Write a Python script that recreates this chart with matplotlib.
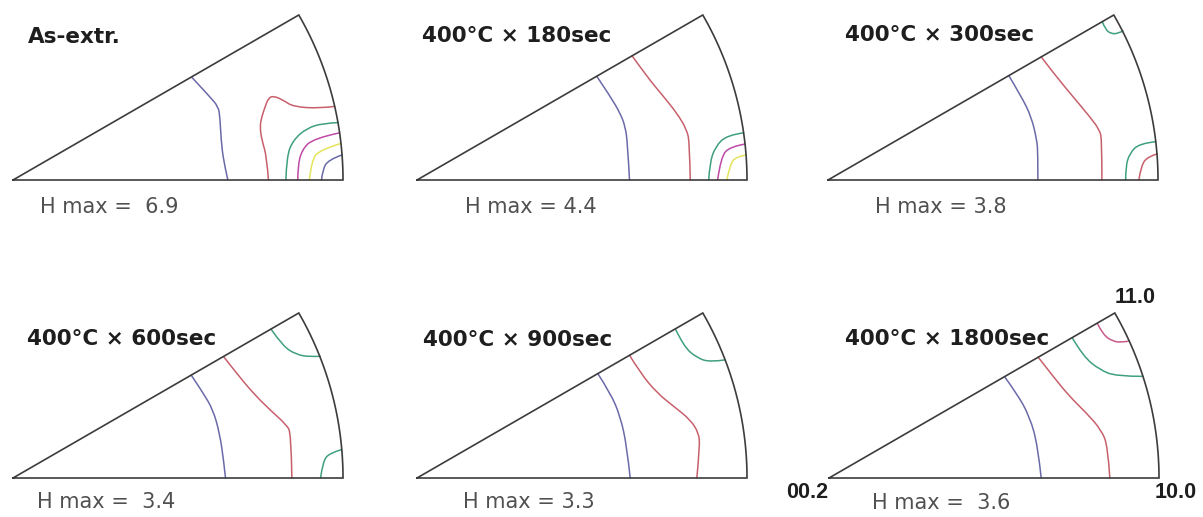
import numpy as np
import matplotlib
matplotlib.use("Agg")
import matplotlib.pyplot as plt
from matplotlib.path import Path
from matplotlib.patches import PathPatch

plt.rcParams['font.family'] = ['DejaVu Sans']

# panel titles and maximum intensity
titles = ["As-extr.", "400°C × 180sec", "400°C × 300sec",
          "400°C × 600sec", "400°C × 900sec", "400°C × 1800sec"]
hmax = ["H max =  6.9", "H max = 4.4", "H max = 3.8",
        "H max =  3.4", "H max = 3.3", "H max =  3.6"]
corner_labels = ["11.0", "10.0", "00.2"]

# contour lines (x, y in units of the triangle radius)
# panel 1 : As-extr.
p1_blue = [(0.542, 0.311), (0.597, 0.252), (0.622, 0.222), (0.627, 0.192),
           (0.632, 0.101), (0.642, 0.040), (0.651, 0.0)]
p1_red = [(0.975, 0.223), (0.930, 0.217), (0.849, 0.222), (0.819, 0.242),
          (0.789, 0.255), (0.774, 0.248), (0.764, 0.222), (0.754, 0.192),
          (0.748, 0.162), (0.754, 0.121), (0.769, 0.071), (0.774, 0.0)]
p1_green = [(0.985, 0.174), (0.940, 0.172), (0.890, 0.157), (0.849, 0.121),
            (0.829, 0.071), (0.827, 0.0)]
p1_mag = [(0.990, 0.143), (0.910, 0.126), (0.875, 0.091), (0.863, 0.040),
          (0.863, 0.0)]
p1_yel = [(0.994, 0.111), (0.930, 0.091), (0.905, 0.061), (0.898, 0.0)]
p1_blue2 = [(0.997, 0.076), (0.955, 0.061), (0.938, 0.030), (0.935, 0.0)]

# panel 2 : 180 sec
p2_blue = [(0.545, 0.314), (0.586, 0.253), (0.616, 0.202), (0.631, 0.162),
           (0.638, 0.111), (0.644, 0.0)]
p2_red = [(0.652, 0.376), (0.697, 0.313), (0.747, 0.253), (0.788, 0.202),
          (0.818, 0.152), (0.826, 0.111), (0.828, 0.0)]
p2_green = [(0.990, 0.143), (0.939, 0.136), (0.904, 0.101), (0.887, 0.051),
            (0.884, 0.0)]
p2_mag = [(0.994, 0.109), (0.949, 0.101), (0.921, 0.071), (0.911, 0.0)]
p2_yel = [(0.997, 0.076), (0.970, 0.071), (0.949, 0.051), (0.939, 0.0)]

# panel 3 : 300 sec
p3_green = [(0.831, 0.480), (0.841, 0.455), (0.859, 0.443), (0.879, 0.444),
            (0.894, 0.452)]
p3_blue = [(0.548, 0.316), (0.586, 0.253), (0.616, 0.192), (0.633, 0.121),
           (0.636, 0.081), (0.636, 0.0)]
p3_red = [(0.646, 0.373), (0.692, 0.313), (0.742, 0.253), (0.793, 0.192),
          (0.823, 0.152), (0.830, 0.121), (0.830, 0.0)]
p3_green2 = [(0.993, 0.116), (0.944, 0.111), (0.914, 0.081), (0.902, 0.040),
             (0.902, 0.0)]
p3_red2 = [(0.997, 0.079), (0.970, 0.071), (0.949, 0.045), (0.942, 0.0)]

# panel 4 : 600 sec
p4_green = [(0.782, 0.451), (0.818, 0.399), (0.859, 0.374), (0.899, 0.367),
            (0.931, 0.369)]
p4_blue = [(0.540, 0.312), (0.576, 0.258), (0.606, 0.207), (0.626, 0.136),
           (0.638, 0.056), (0.644, 0.0)]
p4_red = [(0.638, 0.368), (0.677, 0.318), (0.727, 0.258), (0.778, 0.207),
          (0.828, 0.162), (0.843, 0.136), (0.845, 0.0)]
p4_green2 = [(0.996, 0.086), (0.960, 0.076), (0.939, 0.051), (0.932, 0.0)]

# panel 5 : 900 sec
p5_green = [(0.783, 0.452), (0.808, 0.399), (0.848, 0.364), (0.889, 0.351),
            (0.934, 0.358)]
p5_blue = [(0.548, 0.316), (0.586, 0.258), (0.616, 0.187), (0.636, 0.096),
           (0.646, 0.0)]
p5_red = [(0.644, 0.372), (0.677, 0.318), (0.727, 0.258), (0.778, 0.217),
          (0.828, 0.177), (0.854, 0.136), (0.857, 0.096), (0.848, 0.0)]

# panel 6 : 1800 sec
p6_mag = [(0.813, 0.469), (0.830, 0.434), (0.861, 0.414), (0.886, 0.411),
          (0.910, 0.415)]
p6_green = [(0.737, 0.425), (0.770, 0.369), (0.820, 0.328), (0.871, 0.308),
            (0.951, 0.308)]
p6_red = [(0.634, 0.366), (0.679, 0.308), (0.729, 0.247), (0.780, 0.197),
          (0.825, 0.146), (0.845, 0.096), (0.851, 0.0)]
p6_blue = [(0.532, 0.307), (0.568, 0.258), (0.608, 0.187), (0.633, 0.096),
           (0.643, 0.0)]

BLUE = '#6a6aa8'
RED = '#c8606c'
GREEN = '#3fa07c'
MAG = '#c04aa8'
YEL = '#e4e45a'
PINK = '#c85a8c'

panels = [
    [(p1_blue, BLUE), (p1_red, RED), (p1_green, GREEN), (p1_mag, MAG),
     (p1_yel, YEL), (p1_blue2, BLUE)],
    [(p2_blue, BLUE), (p2_red, RED), (p2_green, GREEN), (p2_mag, MAG),
     (p2_yel, YEL)],
    [(p3_green, GREEN), (p3_blue, BLUE), (p3_red, RED), (p3_green2, GREEN),
     (p3_red2, RED)],
    [(p4_green, GREEN), (p4_blue, BLUE), (p4_red, RED), (p4_green2, GREEN)],
    [(p5_green, GREEN), (p5_blue, BLUE), (p5_red, RED)],
    [(p6_mag, PINK), (p6_green, GREEN), (p6_red, RED), (p6_blue, BLUE)],
]

# layout (pixels): apex of each triangle and radius
W, H = 1203, 517
R = 330.0
apex = [(13, 180), (417, 180), (828, 180), (13, 478), (417, 478), (829, 478)]
title_pos = [(0.045, 0.433), (0.015, 0.436), (0.052, 0.439),
             (0.042, 0.421), (0.018, 0.418), (0.048, 0.421)]
hmax_pos = [(0.082, -0.082), (0.145, -0.082), (0.142, -0.082),
            (0.073, -0.073), (0.139, -0.073), (0.130, -0.076)]
corner_pos = [(0.867, 0.548, 'left'), (0.988, -0.045, 'left'),
              (-0.003, -0.045, 'right')]
xmin, xmax, ymin, ymax = -0.035, 1.2, -0.13, 0.56


def smooth_path(pts):
    # quadratic bezier through midpoints, the read points act as controls
    verts = [pts[0]]
    codes = [Path.MOVETO]
    for k in range(1, len(pts) - 1):
        mid = ((pts[k][0] + pts[k + 1][0]) / 2, (pts[k][1] + pts[k + 1][1]) / 2)
        if k == len(pts) - 2:
            mid = pts[k + 1]
        verts += [pts[k], mid]
        codes += [Path.CURVE3, Path.CURVE3]
    if len(pts) == 2:
        verts.append(pts[1])
        codes.append(Path.LINETO)
    return Path(verts, codes)


fig = plt.figure(figsize=(W / 100, H / 100), dpi=100)

th = np.linspace(0, np.pi / 6, 100)
for i in range(6):
    ax0, ay0 = apex[i]
    left = (ax0 + xmin * R) / W
    bottom = (H - ay0 + ymin * R) / H
    ax = fig.add_axes([left, bottom, (xmax - xmin) * R / W, (ymax - ymin) * R / H])
    ax.set_xlim(xmin, xmax)
    ax.set_ylim(ymin, ymax)
    ax.patch.set_alpha(0)
    ax.axis('off')

    for pts, col in panels[i]:
        ax.add_patch(PathPatch(smooth_path(pts), fill=False, edgecolor=col,
                               lw=1.1, capstyle='round'))

    # triangle outline
    ox = np.concatenate([[0], np.cos(th), [0]])
    oy = np.concatenate([[0], np.sin(th), [0]])
    ax.plot(ox, oy, color='#3c3c3c', lw=1.2, solid_joinstyle='miter')

    ax.text(title_pos[i][0], title_pos[i][1], titles[i], fontsize=15.5,
            fontweight='bold', color='#1e1e1e', ha='left', va='center')
    ax.text(hmax_pos[i][0], hmax_pos[i][1], hmax[i], fontsize=15,
            color='#505050', ha='left', va='center')

    if i == 5:
        for lab, (cx, cy, ha) in zip(corner_labels, corner_pos):
            ax.text(cx, cy, lab, fontsize=15.5, fontweight='bold',
                    family=['Liberation Sans', 'DejaVu Sans'],
                    color='#1e1e1e', ha=ha, va='center')

fig.savefig('out.png', dpi=100)
